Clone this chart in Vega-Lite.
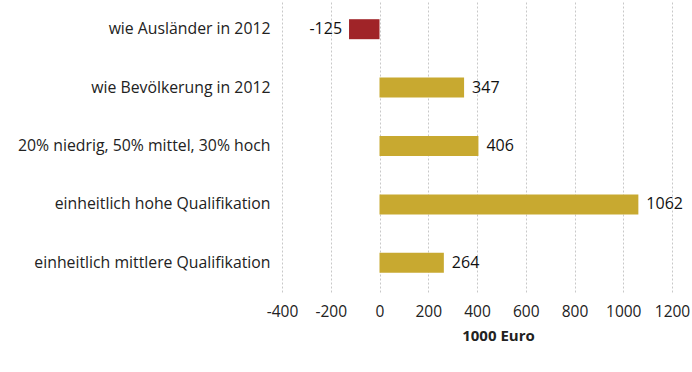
{
  "$schema": "https://vega.github.io/schema/vega-lite/v6.json",
  "width": 390,
  "height": 292,
  "padding": {"left": 17, "top": 0, "right": 2, "bottom": 5},
  "background": "white",
  "config": {
    "view": {"stroke": null},
    "font": "Open Sans",
    "locale": {"number": {"decimal": ".", "thousands": "", "grouping": [3], "currency": ["", ""], "minus": "-"}}
  },
  "data": {
    "values": [
      {"szenario": "wie Ausländer in 2012", "wert": -125},
      {"szenario": "wie Bevölkerung in 2012", "wert": 347},
      {"szenario": "20% niedrig, 50% mittel, 30% hoch", "wert": 406},
      {"szenario": "einheitlich hohe Qualifikation", "wert": 1062},
      {"szenario": "einheitlich mittlere Qualifikation", "wert": 264}
    ]
  },
  "encoding": {
    "y": {
      "field": "szenario",
      "type": "nominal",
      "sort": null,
      "axis": {
        "title": null,
        "domain": false,
        "ticks": false,
        "grid": false,
        "labelFontSize": 15.8,
        "labelColor": "#222",
        "labelPadding": 12,
        "labelLimit": 400,
        "labelFont": "Open Sans"
      }
    },
    "x": {
      "field": "wert",
      "type": "quantitative",
      "scale": {"domain": [-400, 1200], "nice": false},
      "axis": {
        "title": "1000 Euro",
        "values": [-400, -200, 0, 200, 400, 600, 800, 1000, 1200],
        "format": "d",
        "labelOverlap": false,
        "labelFlush": false,
        "domain": false,
        "ticks": false,
        "grid": true,
        "gridColor": "#c8c8c8",
        "gridDash": [2, 2],
        "gridWidth": 1,
        "labelFontSize": 15.5,
        "labelColor": "#222",
        "labelPadding": 12,
        "titleFontSize": 15,
        "titleFontWeight": "bold",
        "titleColor": "#222",
        "titlePadding": 9,
        "titleX": 216,
        "titleAlign": "center"
      }
    }
  },
  "layer": [
    {
      "mark": {"type": "bar", "size": 20},
      "encoding": {
        "color": {
          "condition": {"test": "datum.wert < 0", "value": "#A02428"},
          "value": "#C8A930"
        }
      }
    },
    {
      "transform": [{"filter": "datum.wert >= 0"}],
      "mark": {"type": "text", "align": "left", "dx": 8, "fontSize": 16, "color": "#111", "baseline": "middle"},
      "encoding": {"text": {"field": "wert", "type": "quantitative", "format": "d"}}
    },
    {
      "transform": [{"filter": "datum.wert < 0"}],
      "mark": {"type": "text", "align": "right", "dx": -7, "fontSize": 16, "color": "#111", "baseline": "middle"},
      "encoding": {"text": {"field": "wert", "type": "quantitative", "format": "d"}}
    }
  ]
}
